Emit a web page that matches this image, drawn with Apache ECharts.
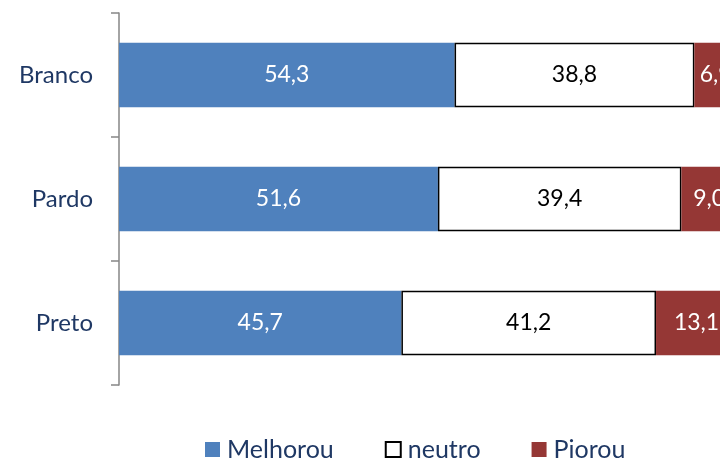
<!DOCTYPE html>
<html>
<head>
<meta charset="utf-8">
<script src="https://cdn.jsdelivr.net/npm/echarts@6/dist/echarts.min.js"></script>
<style>
  html, body { margin: 0; padding: 0; background: #fff; overflow: hidden; }
  #chart { width: 740px; height: 461px; }
</style>
</head>
<body>
<div id="chart"></div>
<script>
const categories = ['Branco', 'Pardo', 'Preto']
const melhorou = [54.3, 51.6, 45.7]
const neutro = [38.8, 39.4, 41.2]
const piorou = [6.9, 9.0, 13.1]

const font = 'Lato'
const navy = '#1f3864'
const fmt = (p) => p.value.toFixed(1).replace('.', ',')

const chart = echarts.init(document.getElementById('chart'))

const barLabel = (color) => ({
  show: true,
  position: 'inside',
  color,
  fontFamily: font,
  fontSize: 23,
  formatter: fmt,
})

chart.setOption({
  animation: false,
  grid: { left: 119, right: 3, top: 13, bottom: 76 },
  legend: {
    top: 432,
    left: 200,
    icon: 'rect',
    itemWidth: 15,
    itemHeight: 15,
    itemGap: 51,
    textStyle: { color: navy, fontFamily: font, fontSize: 25, padding: [0, 0, 0, 2] },
    data: ['Melhorou', 'neutro', 'Piorou'],
  },
  xAxis: {
    type: 'value',
    min: 0,
    max: 100,
    show: false,
  },
  yAxis: {
    type: 'category',
    inverse: true,
    data: categories,
    axisLine: { show: true, lineStyle: { color: '#868686', width: 1.5 } },
    axisTick: { show: true, length: 8, lineStyle: { color: '#868686', width: 1.5 } },
    axisLabel: { color: navy, fontFamily: font, fontSize: 24, margin: 26 },
  },
  series: [
    {
      name: 'Melhorou',
      type: 'bar',
      stack: 'total',
      barWidth: '52%',
      data: melhorou,
      itemStyle: { color: '#4f81bd' },
      label: barLabel('#fff'),
    },
    {
      name: 'neutro',
      type: 'bar',
      stack: 'total',
      data: neutro,
      itemStyle: { color: '#fff', borderColor: '#000', borderWidth: 1.5 },
      label: barLabel('#000'),
    },
    {
      name: 'Piorou',
      type: 'bar',
      stack: 'total',
      data: piorou,
      itemStyle: { color: '#953735' },
      label: barLabel('#fff'),
    },
  ],
})
</script>
</body>
</html>
